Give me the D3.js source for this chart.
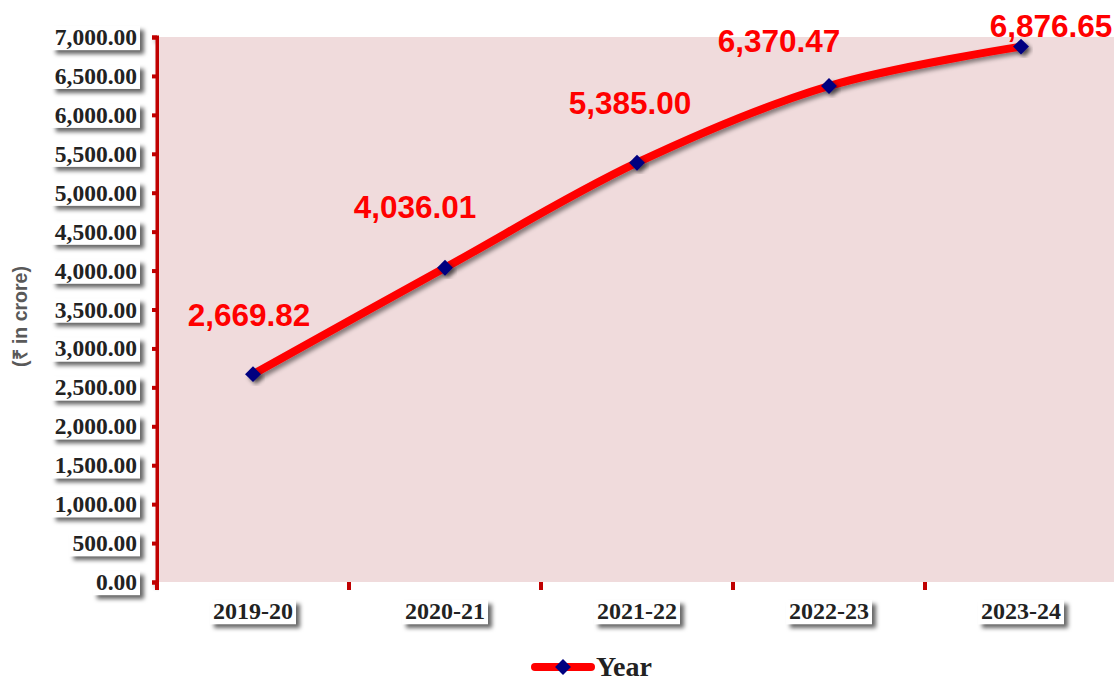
<!DOCTYPE html>
<html><head><meta charset="utf-8">
<script src="https://cdn.jsdelivr.net/npm/d3@7"></script>
<style>body{margin:0;background:#fff;}svg{display:block;}</style>
</head><body>
<svg id="c" width="1114" height="682"></svg>
<script>
const categories = ["2019-20","2020-21","2021-22","2022-23","2023-24"];
const values = [2669.82, 4036.01, 5385.00, 6370.47, 6876.65];
const yTicks = [0,500,1000,1500,2000,2500,3000,3500,4000,4500,5000,5500,6000,6500,7000];
const seriesName = "Year";
const yTitle = "(₹ in crore)";
// label placement tweaks (layout only)
const labelDx = [-4, -30, -7, -50, 30];
const labelDy = [-48, -50, -49, -34, -10];

const svg = d3.select("#c");
const defs = svg.append("defs");
const sh = defs.append("filter").attr("id","sh").attr("x","-20%").attr("y","-40%").attr("width","150%").attr("height","200%");
sh.append("feDropShadow").attr("dx",4).attr("dy",4).attr("stdDeviation",2).attr("flood-color","#000").attr("flood-opacity",0.6);
const sh2 = defs.append("filter").attr("id","sh2").attr("x","-10%").attr("y","-10%").attr("width","130%").attr("height","130%");
sh2.append("feDropShadow").attr("dx",3).attr("dy",3).attr("stdDeviation",2).attr("flood-color","#000").attr("flood-opacity",0.45);

const L=157, R=1117, T=37, B=582;
const x = d3.scaleBand().domain(categories).range([L,R]);
const y = d3.scaleLinear().domain([0,7000]).range([B,T]);

svg.append("rect").attr("x",L).attr("y",T).attr("width",R-L).attr("height",B-T).attr("fill","#f0dbdc");

const fmt = d3.format(",.2f");
const serif = "'Liberation Serif','Times New Roman',serif";
const sans = "'Liberation Sans',Arial,sans-serif";

// Y axis
const ya = svg.append("g").attr("transform",`translate(${L},0)`)
  .call(d3.axisLeft(y).tickValues(yTicks).tickSize(5).tickPadding(15).tickFormat(fmt));
ya.select(".domain").attr("stroke","#c00000").attr("stroke-width",4).attr("filter","url(#sh2)");
ya.selectAll(".tick line").attr("stroke","#c00000").attr("stroke-width",4);
ya.selectAll(".tick text").attr("font-family",serif)
  .attr("font-weight","bold").attr("font-size",23.5).attr("fill","#222");

// X axis
const xa = svg.append("g").attr("transform",`translate(0,${B})`)
  .call(d3.axisBottom(x).tickSize(0).tickPadding(20));
xa.select(".domain").attr("stroke","#c00000").attr("stroke-width",4).attr("filter","url(#sh2)");
xa.selectAll(".tick text").attr("font-family",serif)
  .attr("font-weight","bold").attr("font-size",24).attr("fill","#222");
// x boundary ticks
const bounds = d3.range(categories.length+1).map(i => L + i*x.step());
svg.append("g").selectAll("line").data(bounds).join("line")
  .attr("x1",d=>d).attr("x2",d=>d).attr("y1",B).attr("y2",B+8)
  .attr("stroke","#c00000").attr("stroke-width",4);

// label backgrounds with shadows
function boxify(sel){
  sel.each(function(){
    const t=this; const bb=t.getBBox();
    d3.select(t.parentNode).insert("rect","text")
      .attr("x",bb.x-3).attr("y",bb.y+2).attr("width",bb.width+6).attr("height",bb.height-2)
      .attr("fill","#fff").attr("filter","url(#sh)");
  });
}
boxify(ya.selectAll(".tick text"));
boxify(xa.selectAll(".tick text"));

// Y title
svg.append("text").attr("transform",`translate(27,${(T+B)/2+7}) rotate(-90)`)
  .attr("text-anchor","middle").attr("font-family",sans)
  .attr("font-weight","bold").attr("font-size",19.5).attr("fill","#595959").text(yTitle);

// line
const pts = categories.map((c,i)=>({c,v:values[i],i}));
const line = d3.line().x(d=>x(d.c)+x.bandwidth()/2).y(d=>y(d.v)).curve(d3.curveCatmullRom.alpha(0.5));
svg.append("path").datum(pts).attr("d",line).attr("fill","none")
  .attr("stroke","#ff0000").attr("stroke-width",8).attr("stroke-linecap","round").attr("filter","url(#sh2)");

const diamond = d3.symbol().type(d3.symbolDiamond2).size(160);
svg.append("g").selectAll("path").data(pts).join("path")
  .attr("transform",d=>`translate(${x(d.c)+x.bandwidth()/2},${y(d.v)})`)
  .attr("d",diamond).attr("fill","#000080").attr("filter","url(#sh2)");

// data labels
svg.append("g").selectAll("text").data(pts).join("text")
  .attr("x",d=>x(d.c)+x.bandwidth()/2+labelDx[d.i]).attr("y",d=>y(d.v)+labelDy[d.i])
  .attr("text-anchor","middle").attr("font-family",sans)
  .attr("font-weight","bold").attr("font-size",31.5).attr("fill","#ff0000").text(d=>fmt(d.v));

// legend
const lg = svg.append("g").attr("transform","translate(563,667)");
lg.append("line").attr("x1",-28).attr("x2",28).attr("stroke","#ff0000").attr("stroke-width",8).attr("stroke-linecap","round");
lg.append("path").attr("d",diamond).attr("fill","#000080");
lg.append("text").attr("x",33).attr("y",9).attr("font-family",serif)
  .attr("font-weight","bold").attr("font-size",28).attr("fill","#222").text(seriesName);
</script>
</body></html>
